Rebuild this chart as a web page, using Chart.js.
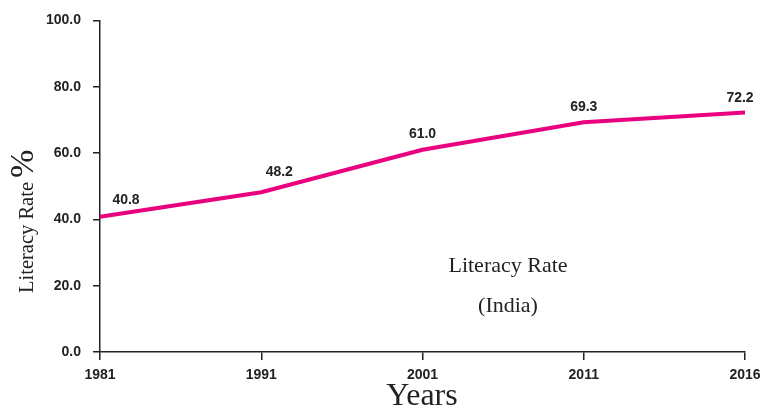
<!DOCTYPE html>
<html>
<head>
<meta charset="utf-8">
<script src="https://cdn.jsdelivr.net/npm/chart.js@4/dist/chart.umd.min.js"></script>
<style>
  html, body { margin: 0; padding: 0; background: #fff; }
  #wrap { width: 771px; height: 409px; }
</style>
</head>
<body>
<div id="wrap"><canvas id="literacyChart"></canvas></div>
<script>
// Literacy rate of India by census year
const years = ['1981', '1991', '2001', '2011', '2016'];
const literacyRate = [40.8, 48.2, 61.0, 69.3, 72.2];
const yTicks = [0, 20, 40, 60, 80, 100];

const labelFont = 'bold 14px "Liberation Sans", Arial, sans-serif';
const serif = '"Liberation Serif", "Times New Roman", serif';

// value labels above each point, plus the free text in the plot
const textPlugin = {
    id: 'textPlugin',
    afterDatasetsDraw: (chart) => {
        const ctx = chart.ctx;
        const meta = chart.getDatasetMeta(0);
        const dx = [26, 18, 0, 0, -5];
        const dy = [17, 20, 16, 15, 14];
        ctx.save();
        ctx.fillStyle = '#222';
        ctx.font = labelFont;
        ctx.textAlign = 'center';
        ctx.textBaseline = 'middle';
        meta.data.forEach((pt, i) => {
            ctx.fillText(literacyRate[i].toFixed(1), pt.x + dx[i], pt.y - dy[i]);
        });

        ctx.textBaseline = 'alphabetic';
        ctx.font = '22px ' + serif;
        ctx.fillText('Literacy Rate', 508, 272);
        ctx.fillText('(India)', 508, 312);

        ctx.font = '32px ' + serif;
        ctx.fillText('Years', 422, 405);

        // y axis title with the larger percent sign
        ctx.translate(33, 293);
        ctx.rotate(-Math.PI / 2);
        ctx.textAlign = 'left';
        ctx.font = '20.5px ' + serif;
        const t = 'Literacy Rate ';
        const w = ctx.measureText(t).width;
        ctx.fillText(t, 0, 0);
        ctx.font = '34px ' + serif;
        ctx.fillText('%', w - 1, 0);
        ctx.restore();
    }
};

new Chart(document.getElementById('literacyChart'), {
    type: 'line',
    data: {
        labels: years,
        datasets: [{
            data: literacyRate,
            borderColor: '#e8007f',
            borderWidth: 4,
            pointRadius: 0,
            tension: 0,
            fill: false
        }]
    },
    options: {
        responsive: true,
        maintainAspectRatio: false,
        animation: false,
        layout: { padding: { top: 17, right: 26, left: 0, bottom: 0 } },
        plugins: { legend: { display: false }, tooltip: { enabled: false } },
        scales: {
            x: {
                offset: false,
                grid: { drawOnChartArea: false, color: '#222', tickLength: 8, lineWidth: 1.5 },
                border: { color: '#222', width: 1.5 },
                ticks: { color: '#222', font: { family: '"Liberation Sans", Arial', size: 14, weight: 'bold' }, maxRotation: 0, padding: 7 },
                afterFit: (scale) => { scale.height = 57; }
            },
            y: {
                min: 0,
                max: 100,
                afterBuildTicks: (scale) => { scale.ticks = yTicks.map(v => ({ value: v })); },
                grid: { drawOnChartArea: false, color: '#222', tickLength: 7, lineWidth: 1.5 },
                border: { color: '#222', width: 1.5 },
                ticks: { color: '#222', font: { family: '"Liberation Sans", Arial', size: 14, weight: 'bold' }, padding: 12, callback: (v) => Number(v).toFixed(1) },
                afterFit: (scale) => { scale.width = 100; }
            }
        }
    },
    plugins: [textPlugin]
});
</script>
</body>
</html>
